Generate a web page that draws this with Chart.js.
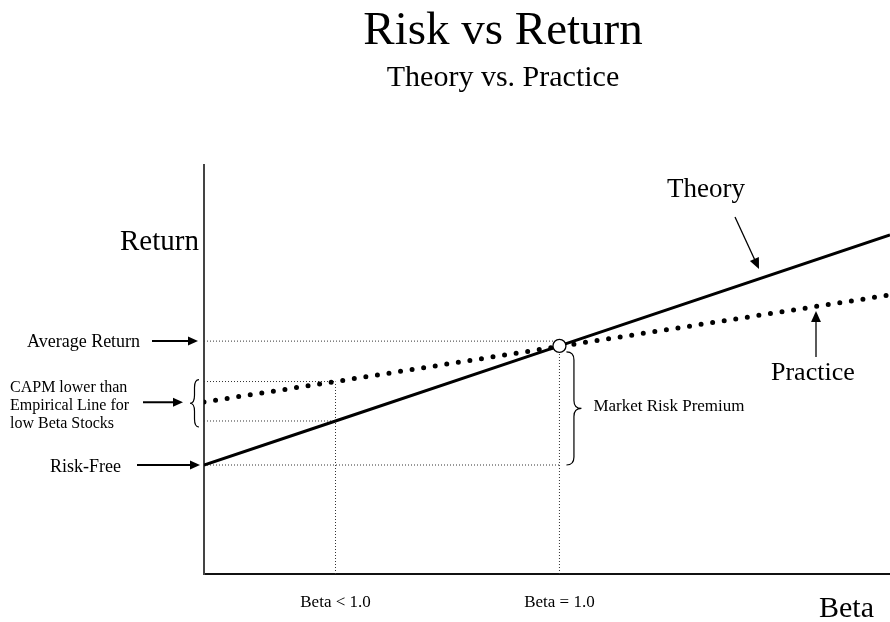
<!DOCTYPE html>
<html>
<head>
<meta charset="utf-8">
<title>Risk vs Return</title>
<script src="https://cdn.jsdelivr.net/npm/chart.js@4.4.1/dist/chart.umd.min.js"></script>
<style>
  body { margin: 0; background: #fff; }
  #wrap { width: 890px; height: 622px; position: relative; }
</style>
</head>
<body>
<div id="wrap"><canvas id="grafico"></canvas></div>
<script>
// dados do gráfico (beta no eixo x, retorno no eixo y)
const betas = [0, 0.37, 1, 1.93];
const theoryReturn = [4.53, 6.36, 9.48, 14.09];
const practiceReturn = [7.15, 8.00, 9.46, 11.60];
const riskFree = 4.53;
const averageReturn = 9.68;
const lowBeta = 0.37;
const marketBeta = 1;
const betaTickLabels = ['Beta < 1.0', 'Beta = 1.0'];
const capmLines = ['CAPM lower than', 'Empirical Line for', 'low Beta Stocks'];

const SERIF = '"Liberation Serif", "Times New Roman", serif';

function pts(xs, ys) {
    return xs.map((x, i) => ({ x: x, y: ys[i] }));
}

// linha pontilhada fina de referência
function guide(data) {
    return {
        data: data,
        borderColor: '#333',
        borderWidth: 1,
        borderDash: [1, 2],
        pointRadius: 0,
        fill: false,
        order: 5
    };
}

function arrow(ctx, x1, y1, x2, y2, width, head) {
    const a = Math.atan2(y2 - y1, x2 - x1);
    ctx.save();
    ctx.strokeStyle = '#000';
    ctx.fillStyle = '#000';
    ctx.lineWidth = width;
    ctx.beginPath();
    ctx.moveTo(x1, y1);
    ctx.lineTo(x2 - Math.cos(a) * head * 0.8, y2 - Math.sin(a) * head * 0.8);
    ctx.stroke();
    ctx.beginPath();
    ctx.moveTo(x2, y2);
    ctx.lineTo(x2 - Math.cos(a) * head + Math.sin(a) * head * 0.45, y2 - Math.sin(a) * head - Math.cos(a) * head * 0.45);
    ctx.lineTo(x2 - Math.cos(a) * head - Math.sin(a) * head * 0.45, y2 - Math.sin(a) * head + Math.cos(a) * head * 0.45);
    ctx.closePath();
    ctx.fill();
    ctx.restore();
}

// chave vertical; dir = 1 ponta para a direita, -1 para a esquerda
function brace(ctx, x, y1, y2, w, dir) {
    const ym = (y1 + y2) / 2, h = w / 2 * dir, r = Math.min(8, (y2 - y1) / 5);
    ctx.save();
    ctx.strokeStyle = '#000';
    ctx.lineWidth = 1.2;
    ctx.beginPath();
    ctx.moveTo(x, y1);
    ctx.quadraticCurveTo(x + h, y1, x + h, y1 + r);
    ctx.lineTo(x + h, ym - r);
    ctx.quadraticCurveTo(x + h, ym, x + 2 * h, ym);
    ctx.quadraticCurveTo(x + h, ym, x + h, ym + r);
    ctx.lineTo(x + h, y2 - r);
    ctx.quadraticCurveTo(x + h, y2, x, y2);
    ctx.stroke();
    ctx.restore();
}

function text(ctx, str, x, y, size, align) {
    ctx.font = size + 'px ' + SERIF;
    ctx.textAlign = align || 'left';
    ctx.textBaseline = 'alphabetic';
    ctx.fillStyle = '#000';
    ctx.fillText(str, x, y);
}

// textos, setas e chaves
const annotations = {
    id: 'annotations',
    afterDraw(chart) {
        const ctx = chart.ctx;
        const xs = chart.scales.x, ys = chart.scales.y;
        const left = chart.chartArea.left;

        text(ctx, 'Risk vs Return', 503, 44, 47, 'center');
        text(ctx, 'Theory vs. Practice', 503, 86, 30, 'center');

        text(ctx, 'Return', 120, 250, 29);

        const yAvg = ys.getPixelForValue(averageReturn);
        text(ctx, 'Average Return', 27, yAvg + 6, 18);
        arrow(ctx, 152, yAvg, left - 6, yAvg, 2, 10);

        const yTop = ys.getPixelForValue(practiceReturn[1]);
        const yBot = ys.getPixelForValue(theoryReturn[1]);
        const yMid = (yTop + yBot) / 2;
        capmLines.forEach((s, i) => text(ctx, s, 10, yMid - 9 + i * 18, 16));
        arrow(ctx, 143, yMid + 1, 183, yMid + 1, 2, 10);
        brace(ctx, left - 5, yTop - 2, yBot + 6, 9, -1);

        const yRf = ys.getPixelForValue(riskFree);
        text(ctx, 'Risk-Free', 50, yRf + 7, 18);
        arrow(ctx, 137, yRf, left - 4, yRf, 2, 10);

        const yMkt = ys.getPixelForValue(theoryReturn[2]);
        const xMkt = xs.getPixelForValue(marketBeta);
        brace(ctx, xMkt + 7, yMkt + 6, yRf, 15, 1);
        text(ctx, 'Market Risk Premium', xMkt + 34, (yMkt + yRf) / 2 + 6, 17);

        text(ctx, 'Theory', 667, 197, 27);
        arrow(ctx, 735, 217, 759, 269, 1.3, 11);
        text(ctx, 'Practice', 771, 380, 26);
        arrow(ctx, 816, 357, 816, 311, 1.3, 11);

        text(ctx, betaTickLabels[0], xs.getPixelForValue(lowBeta), 607, 17, 'center');
        text(ctx, betaTickLabels[1], xs.getPixelForValue(marketBeta), 607, 17, 'center');
        text(ctx, 'Beta', 819, 617, 30);
    }
};

const ctx = document.querySelector('#grafico').getContext('2d');
const chart = new Chart(ctx, {
    type: 'line',
    data: {
        datasets: [
            {
                // ponto de mercado (beta = 1)
                data: [{ x: marketBeta, y: theoryReturn[2] }],
                showLine: false,
                pointRadius: 6.5,
                pointBackgroundColor: '#fff',
                pointBorderColor: '#000',
                pointBorderWidth: 1.3,
                order: 0
            },
            {
                label: 'Theory',
                data: pts(betas, theoryReturn),
                borderColor: '#000',
                borderWidth: 3,
                pointRadius: 0,
                order: 1
            },
            {
                label: 'Practice',
                data: pts(betas, practiceReturn),
                borderColor: '#000',
                borderWidth: 5,
                borderDash: [0, 11.7],
                borderCapStyle: 'round',
                pointRadius: 0,
                order: 2
            },
            guide([{ x: 0, y: averageReturn }, { x: marketBeta, y: averageReturn }]),
            guide([{ x: 0, y: practiceReturn[1] }, { x: lowBeta, y: practiceReturn[1] }]),
            guide([{ x: 0, y: theoryReturn[1] }, { x: lowBeta, y: theoryReturn[1] }]),
            guide([{ x: 0, y: riskFree }, { x: marketBeta, y: riskFree }]),
            guide([{ x: lowBeta, y: 0 }, { x: lowBeta, y: practiceReturn[1] }]),
            guide([{ x: marketBeta, y: 0 }, { x: marketBeta, y: theoryReturn[2] }])
        ]
    },
    options: {
        responsive: true,
        maintainAspectRatio: false,
        animation: false,
        layout: { autoPadding: false, padding: { left: 204, top: 165, right: 0, bottom: 48 } },
        plugins: {
            legend: { display: false },
            tooltip: { enabled: false },
            title: { display: false }
        },
        scales: {
            x: {
                type: 'linear',
                min: 0,
                max: 1.93,
                ticks: { display: false },
                grid: { display: false, drawTicks: false },
                border: { display: true, color: '#111', width: 2 }
            },
            y: {
                type: 'linear',
                min: 0,
                max: 17,
                ticks: { display: false },
                grid: { display: false, drawTicks: false },
                border: { display: true, color: '#444', width: 2 }
            }
        }
    },
    plugins: [annotations]
});
</script>
</body>
</html>
